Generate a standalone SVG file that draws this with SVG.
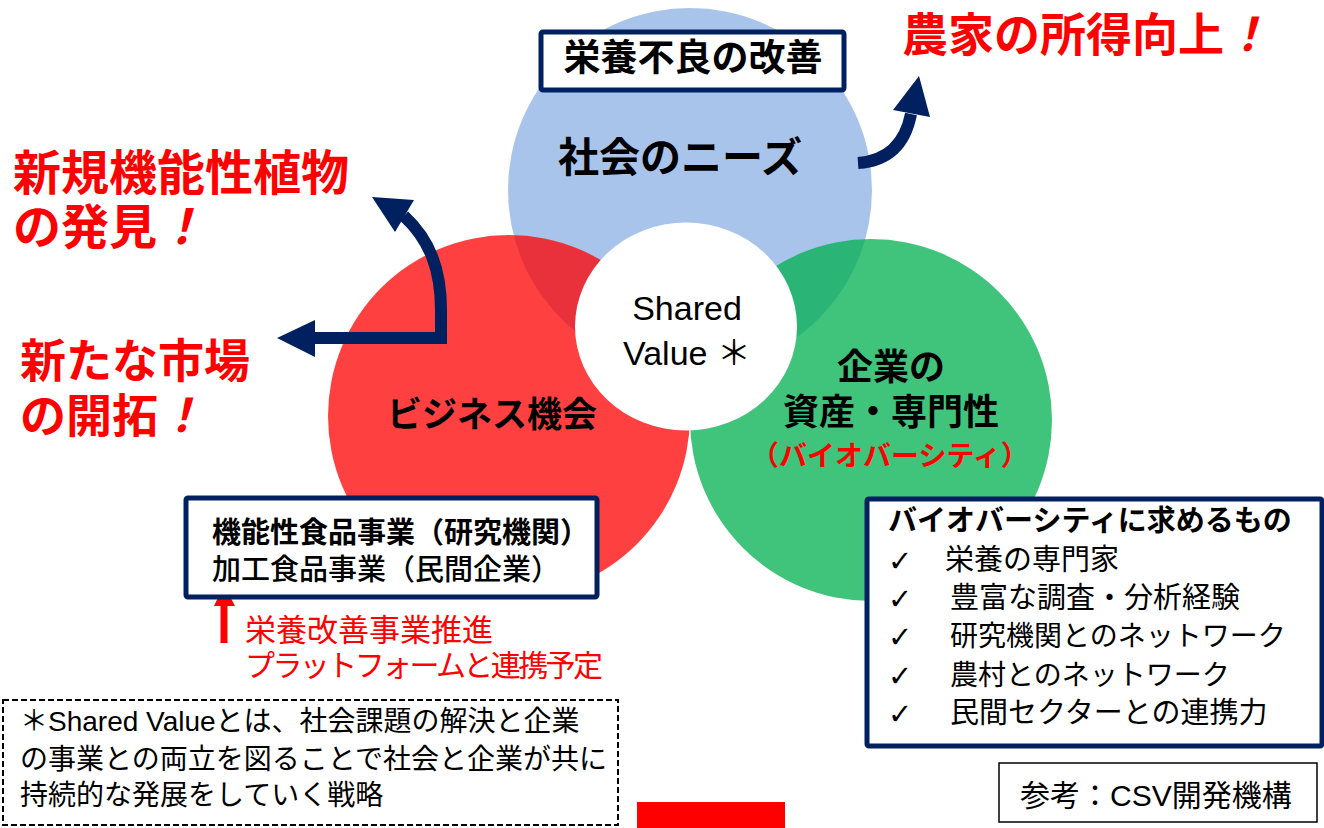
<svg xmlns="http://www.w3.org/2000/svg" width="1324" height="828" viewBox="0 0 1324 828">
<style>
.jp{font-family:"Noto Sans CJK JP","Liberation Sans",sans-serif;}
.mix{font-family:"Liberation Sans","Noto Sans CJK JP",sans-serif;}
.b{font-weight:bold;}
.red{fill:#FF0000;}
.blk{fill:#000000;}
.navybox{fill:#FFFFFF;stroke:#002060;stroke-width:5;}
.shaft{fill:none;stroke:#002060;stroke-width:12;stroke-linejoin:miter;}
.head{fill:#002060;}
.chk{font-family:"DejaVu Sans",sans-serif;font-size:29px;fill:#000000;}
</style>
<rect x="0" y="0" width="1324" height="828" fill="#FFFFFF"/>

<g id="circle-society">
<circle cx="690" cy="190" r="182" fill="#A9C4EB"/>
</g>
<g id="circle-business">
<circle cx="509" cy="416" r="181" fill="#FF0000" fill-opacity="0.75"/>
</g>
<g id="circle-company">
<circle cx="871" cy="420" r="181" fill="#00B050" fill-opacity="0.75"/>
</g>
<g id="shared-value">
<ellipse cx="686" cy="326.5" rx="111" ry="104" fill="#FFFFFF"/>
<text x="687" y="320" class="mix blk" font-size="34" text-anchor="middle">Shared</text>
<text x="687" y="365" class="mix blk" font-size="34" text-anchor="middle">Value ＊</text>
</g>

<g id="label-society">
<text x="680" y="172" class="jp b blk" font-size="41" text-anchor="middle">社会のニーズ</text>
</g>
<g id="label-business">
<text x="492" y="427" class="jp b blk" font-size="35" text-anchor="middle">ビジネス機会</text>
</g>
<g id="label-company">
<text x="891" y="380" class="jp b blk" font-size="36" text-anchor="middle">企業の</text>
<text x="891" y="425" class="jp b blk" font-size="36" text-anchor="middle">資産・専門性</text>
<text x="890" y="466" class="jp b red" font-size="28" text-anchor="middle">（バイオバーシティ）</text>
</g>

<g id="box-malnutrition">
<rect x="541" y="32" width="303" height="58" rx="2" class="navybox"/>
<text x="693" y="71" class="jp b blk" font-size="37" text-anchor="middle">栄養不良の改善</text>
</g>

<g id="outcome-income">
<text x="902" y="51" class="jp b red" font-size="46">農家の所得向上<tspan font-style="italic">！</tspan></text>
</g>
<g id="outcome-plants">
<text x="13" y="190" class="jp b red" font-size="48">新規機能性植物</text>
<text x="13" y="244" class="jp b red" font-size="48">の発見<tspan font-style="italic">！</tspan></text>
</g>
<g id="outcome-market">
<text x="20" y="377" class="jp b red" font-size="46">新たな市場</text>
<text x="20" y="432" class="jp b red" font-size="46">の開拓<tspan font-style="italic">！</tspan></text>
</g>

<g id="connectors">
<path class="shaft" d="M 858 163 Q 902 160 911 114"/>
<polygon class="head" points="893,110 919,76 930,117"/>
<path class="shaft" d="M 314 338 H 441 V 310 C 441 270 430 240 404 216"/>
<polygon class="head" points="372,197 414,200 395,232"/>
<polygon class="head" points="277,338 315,320 315,357"/>
<line x1="224" y1="643" x2="224" y2="603" stroke="#FF0000" stroke-width="7"/>
<polygon points="214,606 224,585 235,606" fill="#FF0000"/>
</g>

<g id="box-food">
<rect x="186" y="498" width="411" height="99" rx="2" class="navybox"/>
<text x="212" y="543" class="jp b blk" font-size="29">機能性食品事業（研究機関）</text>
<text x="212" y="580" class="jp blk" font-size="29" font-weight="500">加工食品事業（民間企業）</text>
</g>

<g id="note-platform">
<text x="245" y="641" class="jp red" font-size="31">栄養改善事業推進</text>
<text x="245" y="676" class="jp red" font-size="30" textLength="358" lengthAdjust="spacing">プラットフォームと連携予定</text>
</g>

<g id="box-biodiversity">
<rect x="867" y="499" width="455" height="247" rx="2" class="navybox"/>
<text x="888" y="531" class="jp b blk" font-size="29">バイオバーシティに求めるもの</text>
<text x="888" y="571" class="chk">✓</text>
<text x="888" y="609" class="chk">✓</text>
<text x="888" y="647" class="chk">✓</text>
<text x="888" y="686" class="chk">✓</text>
<text x="888" y="724" class="chk">✓</text>
<text x="945" y="570" class="jp blk" font-size="29">栄養の専門家</text>
<text x="950" y="608" class="jp blk" font-size="29">豊富な調査・分析経験</text>
<text x="950" y="646" class="jp blk" font-size="28">研究機関とのネットワーク</text>
<text x="950" y="685" class="jp blk" font-size="28">農村とのネットワーク</text>
<text x="950" y="723" class="jp blk" font-size="29">民間セクターとの連携力</text>
</g>

<g id="note-shared-value">
<rect x="3" y="700" width="615" height="125" fill="#FFFFFF" stroke="#000000" stroke-width="2" stroke-dasharray="6,3"/>
<text x="20" y="731" class="mix blk" font-size="28">＊Shared Valueとは、社会課題の解決と企業</text>
<text x="20" y="769" class="mix blk" font-size="28">の事業との両立を図ることで社会と企業が共に</text>
<text x="20" y="805" class="mix blk" font-size="28">持続的な発展をしていく戦略</text>
</g>

<g id="red-bar">
<rect x="637" y="802" width="148" height="26" fill="#FF0000"/>
</g>

<g id="source">
<rect x="999" y="763" width="318" height="59" fill="#FFFFFF" stroke="#000000" stroke-width="1.5"/>
<text x="1020" y="806" class="mix blk" font-size="30">参考：CSV開発機構</text>
</g>
</svg>
